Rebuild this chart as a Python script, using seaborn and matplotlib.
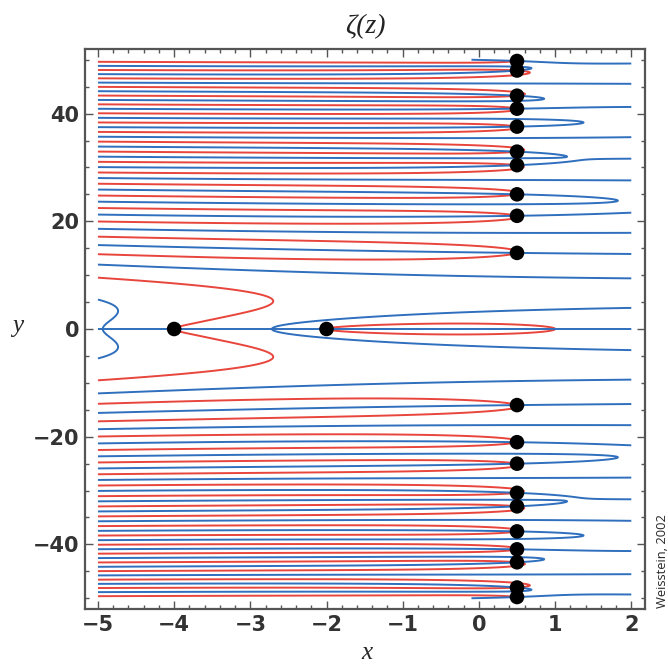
import numpy as np
import pandas as pd
import matplotlib
matplotlib.use("Agg")
import matplotlib.pyplot as plt
from matplotlib.ticker import MultipleLocator
import seaborn as sns

# ---- data ----
# zeros of zeta(z): trivial zeros and the first non-trivial zeros (Re z = 1/2)
trivial_zero_x = [-4.0, -2.0]
nontrivial_zero_y = [14.134725, 21.022040, 25.010858, 30.424876, 32.935062,
                     37.586178, 40.918719, 43.327073, 48.005151, 49.773832]
x_ticks = [-5, -4, -3, -2, -1, 0, 1, 2]
y_ticks = [-40, -20, 0, 20, 40]
x_range = (-5.0, 2.0)
y_range = (-50.0, 50.0)

zero_x = trivial_zero_x + [0.5] * (2 * len(nontrivial_zero_y))
zero_y = [0.0, 0.0] + nontrivial_zero_y + [-v for v in nontrivial_zero_y]
zeros = pd.DataFrame({"x": zero_x, "y": zero_y})

# ---- zeta(s) by Euler-Maclaurin summation ----
BERN = [1/6, -1/30, 1/42, -1/30, 5/66, -691/2730, 7/6, -3617/510,
        43867/798, -174611/330]

def zeta(s, N=30):
    out = np.zeros_like(s)
    for k in range(1, N):
        out += np.exp(-s * np.log(k))
    lnN = np.log(N)
    out += np.exp((1 - s) * lnN) / (s - 1) + 0.5 * np.exp(-s * lnN)
    poch = s.copy()          # s(s+1)...(s+2j-2)
    fact = 2.0               # (2j)!
    for j, b in enumerate(BERN, start=1):
        out += b / fact * poch * np.exp((-s - 2 * j + 1) * lnN)
        poch = poch * (s + 2 * j - 1) * (s + 2 * j)
        fact = fact * (2 * j + 1) * (2 * j + 2)
    return out

xs = np.linspace(x_range[0], x_range[1], 701)
ys = np.linspace(y_range[0], y_range[1], 2400)
X, Y = np.meshgrid(xs, ys)
Z = zeta(X + 1j * Y)

RED = "#e8453c"
BLUE = "#2f6fbd"

sns.set_style("ticks")
fig = plt.figure(figsize=(6.68, 6.67), dpi=100)
ax = fig.add_axes([85 / 668, 1 - 609 / 667, (645 - 85) / 668, (609 - 49) / 667])

ax.contour(X, Y, Z.real, levels=[0], colors=[RED], linewidths=1.4)
ax.contour(X, Y, Z.imag, levels=[0], colors=[BLUE], linewidths=1.4)

sns.scatterplot(data=zeros, x="x", y="y", ax=ax, color="black", s=110,
                edgecolor="none", zorder=5, legend=False)

ax.set_xlim(-5.17, 2.18)
ax.set_ylim(-52.0, 52.0)
ax.set_xticks(x_ticks)
ax.set_yticks(y_ticks)
ax.set_xticklabels(["\u2212%d" % -v if v < 0 else "%d" % v for v in x_ticks])
ax.set_yticklabels(["\u2212%d" % -v if v < 0 else "%d" % v for v in y_ticks])
ax.xaxis.set_minor_locator(MultipleLocator(0.2))
ax.yaxis.set_minor_locator(MultipleLocator(5))
ax.tick_params(which="both", direction="in", top=True, right=True,
               color="#555555", width=1.0)
ax.tick_params(which="major", length=6, labelsize=15, labelcolor="#333333", pad=4)
ax.tick_params(which="minor", length=3)
for lab in ax.get_xticklabels() + ax.get_yticklabels():
    lab.set_fontweight("bold")
for sp in ax.spines.values():
    sp.set_color("#555555")
    sp.set_linewidth(1.6)

ax.set_xlabel("x", family="Liberation Serif", style="italic", fontsize=18,
              va="center", ha="center")
ax.set_ylabel("y", family="Liberation Serif", style="italic", fontsize=18,
              rotation=0, va="center", ha="center")
ax.xaxis.set_label_coords(0.504, -(653 - 609) / 560)
ax.yaxis.set_label_coords((18 - 85) / 560, (609 - 326) / 560)
ax.text(0.5, 1 + (49 - 27) / 560, "\u03b6(z)", transform=ax.transAxes,
        family="Liberation Serif", style="italic", fontsize=20,
        ha="center", va="center", color="#222222")

fig.text(662 / 668, 1 - 561 / 667, "Weisstein, 2002", rotation=90,
         ha="center", va="center", fontsize=9.3, family="Open Sans")

fig.savefig("out.png", dpi=100)
